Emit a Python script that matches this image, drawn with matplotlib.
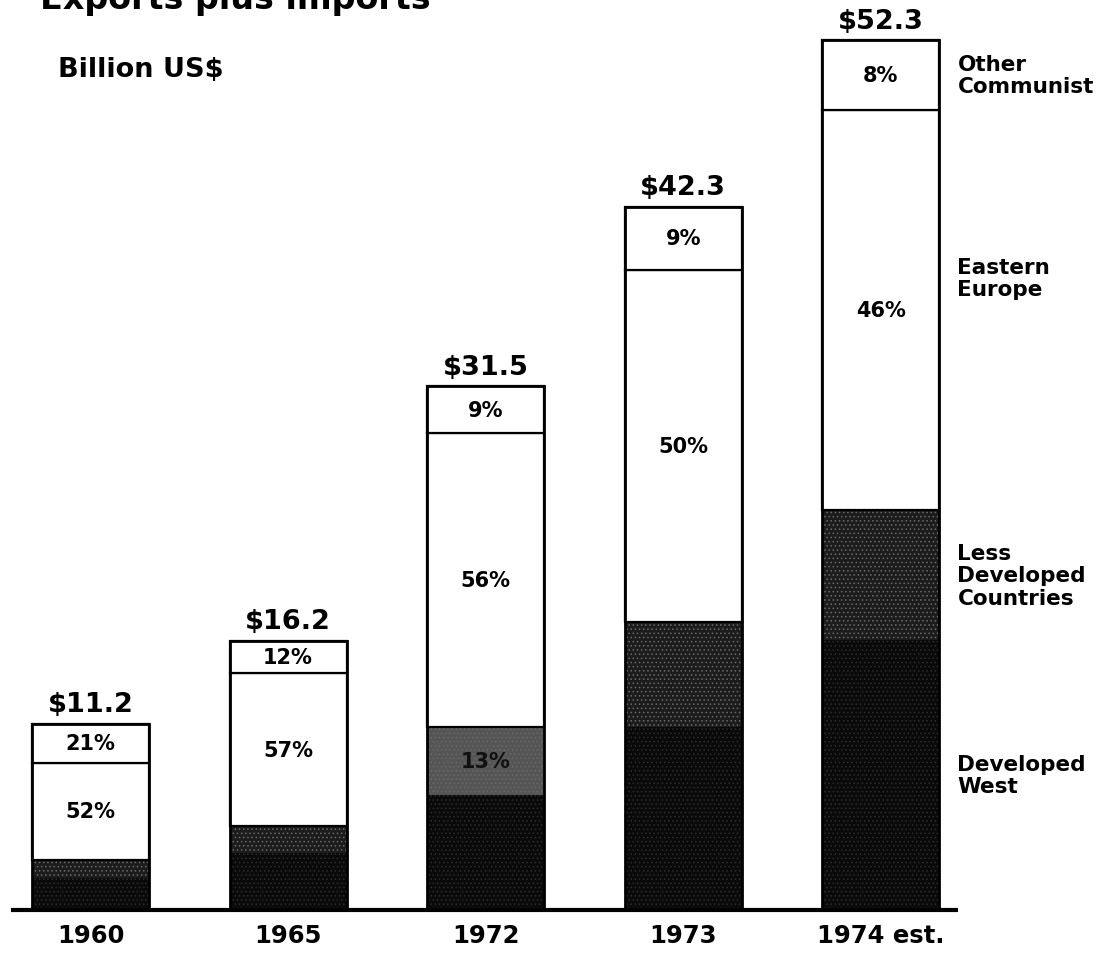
import matplotlib
matplotlib.use("Agg")
import matplotlib.pyplot as plt
import numpy as np

# data (billion US$ and percent shares)
years = ["1960", "1965", "1972", "1973", "1974 est."]
totals = [11.2, 16.2, 31.5, 42.3, 52.3]
other_pct = [21, 12, 9, 9, 8]
eastern_pct = [52, 57, 56, 50, 46]
ldc_pct = [10, 10, 13, 15, 15]          # estimated from the shading, only 1972 is printed
ldc_labels = [None, None, "13%", None, None]
west_pct = [100 - o - e - l for o, e, l in zip(other_pct, eastern_pct, ldc_pct)]

region_names = ["Developed\nWest", "Less\nDeveloped\nCountries", "Eastern\nEurope", "Other\nCommunist"]

plt.rcParams['font.family'] = ['DejaVu Sans']
plt.rcParams['font.weight'] = 'bold'
plt.rcParams['hatch.linewidth'] = 0.6

fig = plt.figure(figsize=(11.16, 9.54), dpi=100)
ax = fig.add_axes([0, 0, 1, 1])
ax.set_xlim(-0.458, 5.19)
ax.set_ylim(-2.586, 54.78)
ax.axis('off')

x = np.arange(len(years))
width = 0.592
totals = np.array(totals)
west = totals * np.array(west_pct) / 100
ldc = totals * np.array(ldc_pct) / 100
eastern = totals * np.array(eastern_pct) / 100
other = totals * np.array(other_pct) / 100

ldc_colors = ['#1c1c1c', '#1c1c1c', '#555555', '#1c1c1c', '#1c1c1c']

# dark, speckled non-communist parts
ax.bar(x, west, width, bottom=0, color='#0a0a0a', edgecolor='#2e2e2e',
       hatch='....', linewidth=0, zorder=2)
ax.bar(x, ldc, width, bottom=west, color=ldc_colors, edgecolor='#6a6a6a',
       hatch='....', linewidth=0, zorder=2)
# white communist parts
ax.bar(x, eastern, width, bottom=west + ldc, color='white', edgecolor='black',
       linewidth=1.6, zorder=3)
ax.bar(x, other, width, bottom=west + ldc + eastern, color='white', edgecolor='black',
       linewidth=1.6, zorder=3)
# outline of the whole bar
ax.bar(x, totals, width, color='none', edgecolor='black', linewidth=2.0, zorder=4)

# base line
ax.hlines(0, -0.4, len(years) - 1 + 0.39, color='black', linewidth=3, zorder=5)

for i in range(len(years)):
    ax.annotate(f"${totals[i]:.1f}", (x[i], totals[i]), xytext=(0, 9),
                textcoords='offset points', ha='center', va='baseline',
                fontsize=19.5, fontweight='bold')
    ax.text(x[i], west[i] + ldc[i] + eastern[i] + other[i] / 2, f"{other_pct[i]}%",
            ha='center', va='center', fontsize=15, fontweight='bold', zorder=6)
    ax.text(x[i], west[i] + ldc[i] + eastern[i] / 2, f"{eastern_pct[i]}%",
            ha='center', va='center', fontsize=15, fontweight='bold', zorder=6)
    if ldc_labels[i]:
        ax.text(x[i], west[i] + ldc[i] / 2, ldc_labels[i],
                ha='center', va='center', fontsize=15, fontweight='bold',
                color='#111111', zorder=6)
    ax.annotate(years[i], (x[i], 0), xytext=(0, -23), textcoords='offset points',
                ha='center', va='baseline', fontsize=17.5, fontweight='bold')

# region labels beside the last bar
last = len(years) - 1
bottoms = [0, west[last], west[last] + ldc[last], west[last] + ldc[last] + eastern[last]]
heights = [west[last], ldc[last], eastern[last], other[last]]
label_frac = [0.5, 0.5, 0.58, 0.5]
for name, b, h, f in zip(region_names, bottoms, heights, label_frac):
    ax.annotate(name, (x[last] + width / 2, b + h * f), xytext=(13, 0),
                textcoords='offset points', ha='left', va='center',
                fontsize=15.5, fontweight='bold', linespacing=1.15)

# title sits partly above the top edge, as in the scanned page
fig.text(40 / 1116, 1 - 9 / 954, "Exports plus imports", ha='left', va='baseline',
         fontsize=24, fontweight='bold')
fig.text(58 / 1116, 1 - 77 / 954, "Billion US$", ha='left', va='baseline',
         fontsize=19.5, fontweight='bold')

fig.savefig("out.png", dpi=100, facecolor='white')
